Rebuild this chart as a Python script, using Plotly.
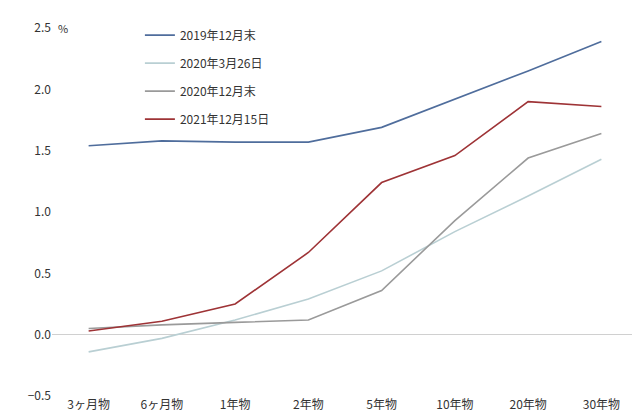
import plotly.graph_objects as go

cats = ["3ヶ月物","6ヶ月物","1年物","2年物","5年物","10年物","20年物","30年物"]
names = ["2019年12月末","2020年3月26日","2020年12月末","2021年12月15日"]
s2019 = [1.54,1.58,1.57,1.57,1.69,1.92,2.15,2.39]
s2020m = [-0.14,-0.03,0.12,0.29,0.52,0.84,1.13,1.43]
s2020d = [0.05,0.08,0.10,0.12,0.36,0.93,1.44,1.64]
s2021 = [0.03,0.11,0.25,0.67,1.24,1.46,1.90,1.86]
colors = ["#4f6d9c","#b9cfd3","#9a9a9a","#9e3336"]

fig = go.Figure()
for i, (n, v, c) in enumerate(zip(names, [s2019, s2020m, s2020d, s2021], colors)):
    fig.add_trace(go.Scatter(x=cats, y=v, name=n, mode="lines", legendgroup=f"g{i}",
                             line=dict(color=c, width=1.6)))

fig.update_layout(
    width=640, height=420, paper_bgcolor="white", plot_bgcolor="white",
    margin=dict(l=44, r=10, t=10, b=32),
    font=dict(family="Noto Sans CJK JP", size=12, color="#333"),
    legend=dict(x=0.15, y=1.02, xanchor="left", yanchor="top", bgcolor="rgba(0,0,0,0)",
                font=dict(size=12), tracegroupgap=9, itemwidth=30),
    showlegend=True,
)
fig.update_xaxes(range=[-0.5, 7.5], showgrid=False, showline=False, ticks="", tickfont=dict(size=12))
fig.update_yaxes(range=[-0.5, 2.5], dtick=0.5, tickformat=".1f", showgrid=False,
                 zeroline=True, zerolinecolor="#d0d0d0", zerolinewidth=1,
                 showline=False, ticks="", tickfont=dict(size=12))
fig.add_annotation(text="%", xref="paper", yref="y", x=0, y=2.5, xanchor="left",
                   showarrow=False, font=dict(size=11), xshift=4)
fig.write_html("out.html")
